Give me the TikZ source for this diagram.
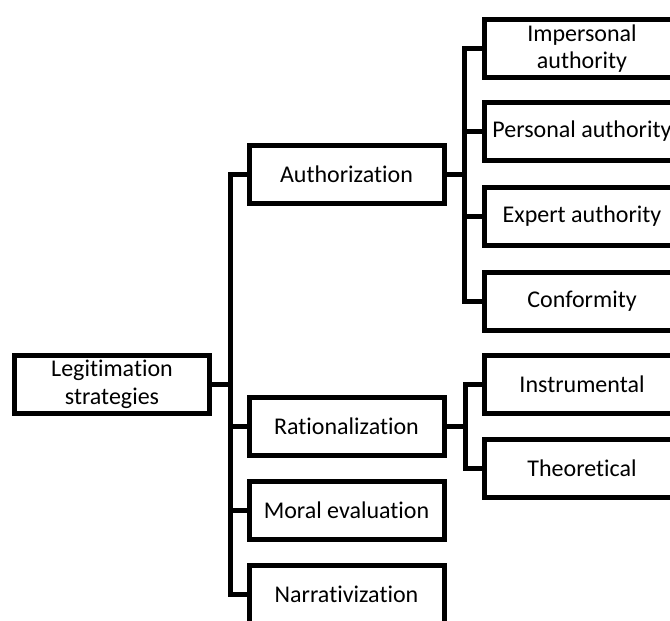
\documentclass[tikz,border=0pt]{standalone}
\usepackage{fontspec}
\setmainfont{Carlito}[Ligatures={NoCommon,NoRequired,NoContextual}]
\begin{document}
\begin{tikzpicture}[x=1pt,y=-1pt,
  box/.style={draw=black, line width=5pt, fill=white, inner sep=0pt,
    minimum width=195pt, minimum height=58pt, align=center,
    font=\fontsize{24}{27.5}\selectfont},
  link/.style={draw=black, line width=5pt}]
\useasboundingbox (0,0) rectangle (670,621);
\fill[white] (0,0) rectangle (670,621);
\clip (0,0) rectangle (670,621);

% root
\node[box] (legit) at (112,384.5) {Legitimation\\strategies};

% first level
\node[box] (auth)  at (346.5,174.5) {Authorization};
\node[box] (rat)   at (346.5,426.5) {Rationalization};
\node[box] (moral) at (346.5,510)   {Moral evaluation};
\node[box] (narr)  at (346.5,594.5) {Narrativization};

% second level under Authorization
\node[box] (imp)  at (582,48.5)  {Impersonal\\authority};
\node[box] (pers) at (582,131.5) {Personal authority};
\node[box] (exp)  at (582,216.5) {Expert authority};
\node[box] (conf) at (582,301)   {Conformity};

% second level under Rationalization
\node[box] (instr) at (582,384.5) {Instrumental};
\node[box] (theo)  at (582,468.5) {Theoretical};

% branch points
\coordinate (t0) at (230,384.5);
\coordinate (a0) at (464,174.5);
\coordinate (r0) at (465,426.5);

% trunk from the root
\draw[link] (legit.east) -- (t0);
\draw[link] (t0) |- (auth.west);
\draw[link] (t0) |- (rat.west);
\draw[link] (t0) |- (moral.west);
\draw[link] (t0) |- (narr.west);

% Authorization branches
\draw[link] (auth.east) -- (a0);
\draw[link] (a0) |- (imp.west);
\draw[link] (a0) |- (pers.west);
\draw[link] (a0) |- (exp.west);
\draw[link] (a0) |- (conf.west);

% Rationalization branches
\draw[link] (rat.east) -- (r0);
\draw[link] (r0) |- (instr.west);
\draw[link] (r0) |- (theo.west);
\end{tikzpicture}
\end{document}
